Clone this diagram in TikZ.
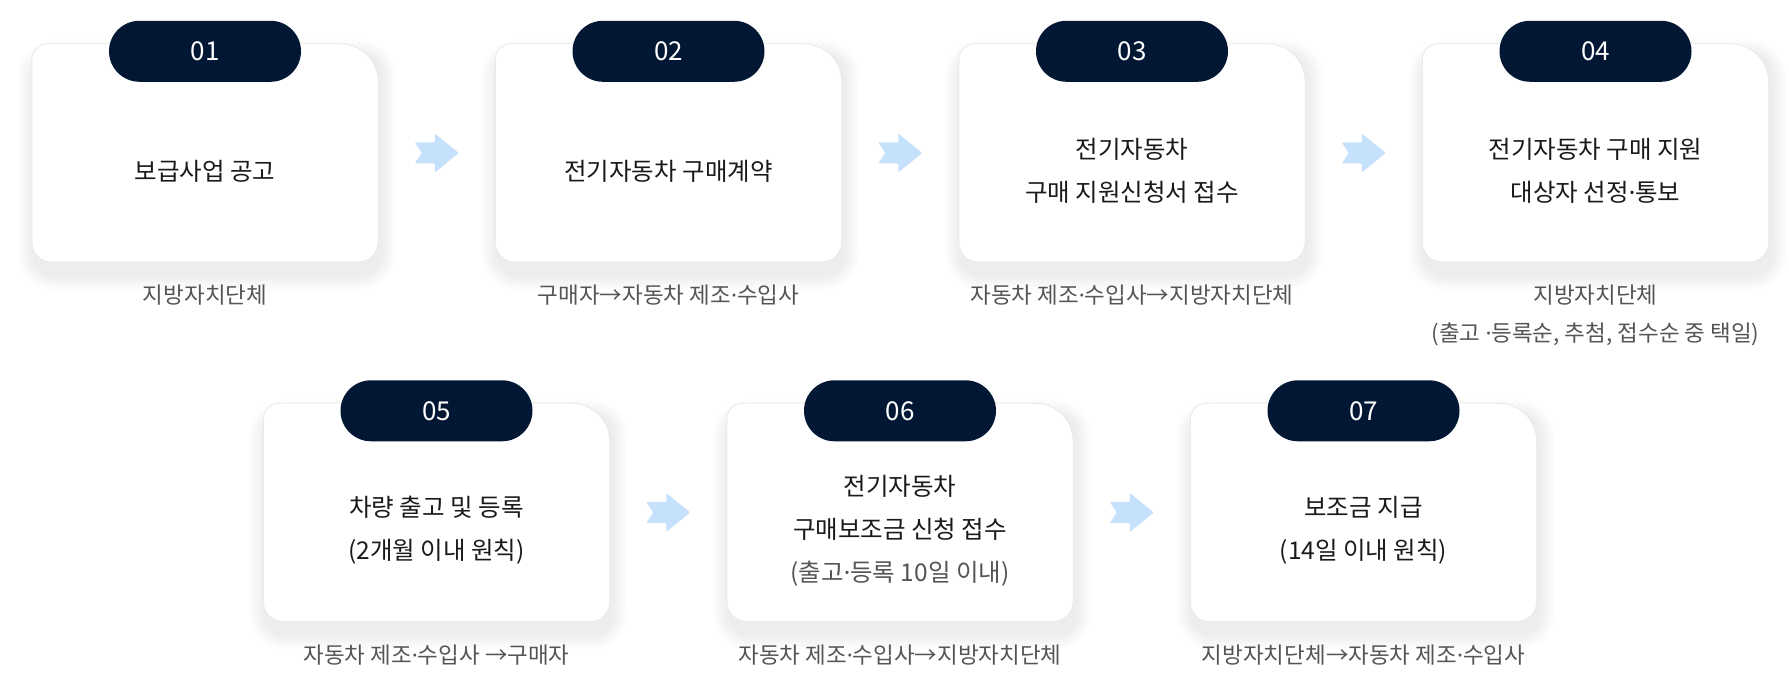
\documentclass[tikz,border=0pt]{standalone}
\usepackage{fontspec}
\setmainfont{Noto Sans CJK KR}
\newfontfamily\dotfont{Noto Sans}
\newcommand\md{{\dotfont ·}}
\usetikzlibrary{calc}
\definecolor{navy}{HTML}{021734}
\definecolor{arrowblue}{HTML}{C5E1FC}
\definecolor{cardline}{HTML}{EAEAEA}
\definecolor{maintext}{HTML}{1A1A1A}
\definecolor{subtext}{HTML}{555555}

\begin{document}
\begin{tikzpicture}[x=1pt, y=1pt,
  card/.style={minimum width=346pt, minimum height=218pt, inner sep=0pt},
  cardshape/.style={fill=white, draw=cardline, line width=0.9pt},
  haze/.style={fill=black, opacity=0.009},
  badge/.style={fill=navy, text=white, rounded corners=30.5pt, minimum width=192pt, minimum height=61pt, inner sep=0pt, font=\fontsize{26}{30}\selectfont},
  body/.style={text=maintext, align=center, font=\fontsize{24.5}{43}\selectfont},
  note/.style={text=subtext, align=center, anchor=north, inner sep=0pt, font=\fontsize{22.5}{38}\selectfont},
  flow/.pic={\fill[arrowblue, rounded corners=1pt] (-22,10.5) -- (-2,10.5) -- (-2,19.5) -- (22,0) -- (-2,-19.5) -- (-2,-10.5) -- (-22,-10.5) -- (-15,0) -- cycle;}]
  \fill[white] (0,0) rectangle (1789,687);
  \useasboundingbox (0,0) rectangle (1789,687);

  % cards with number badges
  \foreach \n/\x/\y in {1/205/534, 2/668.5/534, 3/1132/534, 4/1595.5/534, 5/436.5/174.5, 6/900/174.5, 7/1363.5/174.5} {
    \node[card] (c\n) at (\x,\y) {};
    \foreach \s in {1,...,9}
      \fill[haze, rounded corners=20pt+\s*2pt] ([shift={(-\s*1.8pt+2pt,-12pt-\s*1.8pt)}]c\n.south west) rectangle ([shift={(\s*1.8pt+2pt,-12pt+\s*1.8pt)}]c\n.north east);
    \path[cardshape] ([yshift=-16pt]c\n.north west) arc[start angle=180, end angle=90, radius=16pt]
      -- ([xshift=-38pt]c\n.north east) arc[start angle=90, end angle=0, radius=38pt]
      -- ([yshift=20pt]c\n.south east) arc[start angle=0, end angle=-90, radius=20pt]
      -- ([xshift=20pt]c\n.south west) arc[start angle=270, end angle=180, radius=20pt] -- cycle;
    \node[badge] (b\n) at ([yshift=-7.5pt]c\n.north) {0\n};
  }

  % arrows between the steps
  \foreach \a/\b in {1/2, 2/3, 3/4, 5/6, 6/7}
    \pic at ($(c\a.east)!0.5!(c\b.west)$) {flow};

  % step texts
  \node[body] (t1) at ([yshift=-18pt]c1.center) {보급사업 공고};
  \node[body] (t2) at ([yshift=-18pt]c2.center) {전기자동차 구매계약};
  \node[body] (t3) at ([yshift=-18pt]c3.center) {전기자동차\\구매 지원신청서 접수};
  \node[body] (t4) at ([yshift=-18pt]c4.center) {전기자동차 구매 지원\\대상자 선정\md 통보};
  \node[body] (t5) at ([yshift=-18pt]c5.center) {차량 출고 및 등록\\(2개월 이내 원칙)};
  \node[body] (t6) at ([yshift=-18pt]c6.center) {전기자동차\\구매보조금 신청 접수\\\textcolor{subtext}{(출고\md 등록 10일 이내)}};
  \node[body] (t7) at ([yshift=-18pt]c7.center) {보조금 지급\\(14일 이내 원칙)};

  % who does it
  \node[note] (l1) at ([yshift=-23pt]c1.south) {지방자치단체};
  \node[note] (l2) at ([yshift=-23pt]c2.south) {구매자→자동차 제조\md 수입사};
  \node[note] (l3) at ([yshift=-23pt]c3.south) {자동차 제조\md 수입사→지방자치단체};
  \node[note] (l4) at ([yshift=-23pt]c4.south) {지방자치단체\\(출고 \md 등록순, 추첨, 접수순 중 택일)};
  \node[note] (l5) at ([yshift=-23pt]c5.south) {자동차 제조\md 수입사 →구매자};
  \node[note] (l6) at ([yshift=-23pt]c6.south) {자동차 제조\md 수입사→지방자치단체};
  \node[note] (l7) at ([yshift=-23pt]c7.south) {지방자치단체→자동차 제조\md 수입사};
\end{tikzpicture}
\end{document}
